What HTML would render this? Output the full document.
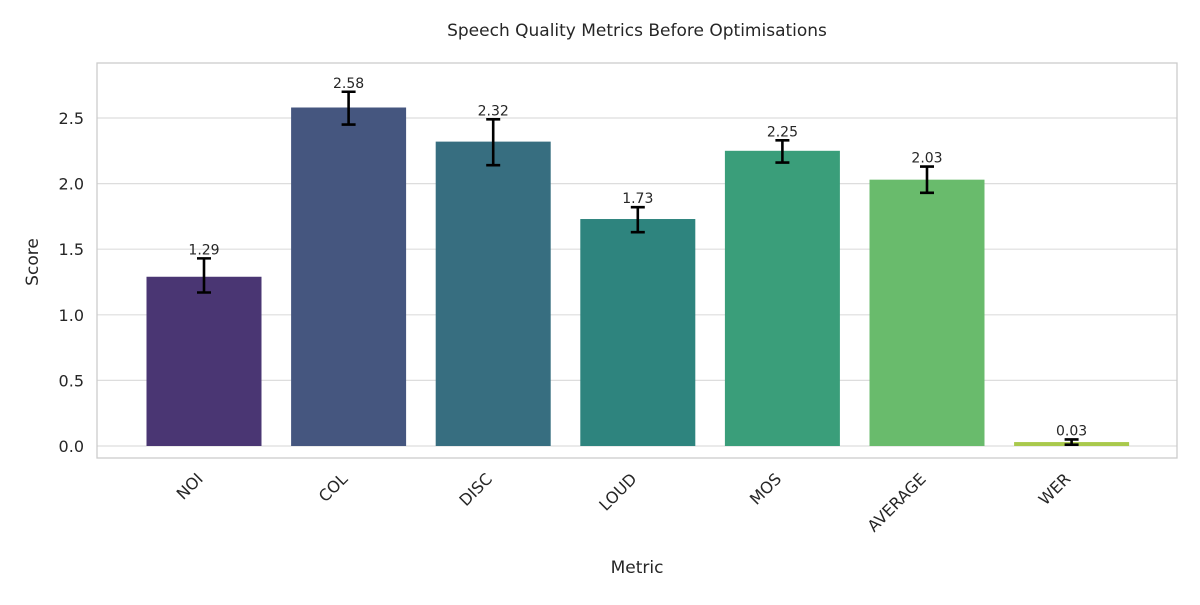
<!DOCTYPE html>
<html><head><meta charset="utf-8"><style>
body{margin:0;background:#fff;font-family:"Liberation Sans","DejaVu Sans",sans-serif;}
</style></head><body>
<svg id="chart" width="1200" height="600" xmlns="http://www.w3.org/2000/svg" font-family="'DejaVu Sans','Liberation Sans',sans-serif">
<rect width="1200" height="600" fill="#fff"/>
<text x="637" y="36" text-anchor="middle" font-size="17" fill="#262626">Speech Quality Metrics Before Optimisations</text>
<g id="grid"></g><g id="bars"></g><g id="err"></g><g id="labels"></g>
<rect x="97" y="63" width="1080" height="395" fill="none" stroke="#cccccc" stroke-width="1.3"/>
<text x="637" y="573" text-anchor="middle" font-size="17" fill="#262626">Metric</text>
<text transform="translate(38,262) rotate(-90)" text-anchor="middle" font-size="17" fill="#262626">Score</text>
</svg>
<script>
const categories=["NOI","COL","DISC","LOUD","MOS","AVERAGE","WER"];
const values=[1.29,2.58,2.32,1.73,2.25,2.03,0.03];
const errLow=[1.17,2.45,2.14,1.63,2.16,1.93,0.01];
const errHigh=[1.43,2.70,2.49,1.82,2.33,2.13,0.05];
const valueLabels=["1.29","2.58","2.32","1.73","2.25","2.03","0.03"];
const yTicks=[0,0.5,1.0,1.5,2.0,2.5];
const colors=["#4a3673","#45567f","#376e80","#2e847e","#3a9e7a","#69bb6c","#a9c94c"];
const NS="http://www.w3.org/2000/svg";
const y=v=>446-v*131.2;
const x=i=>204+144.6*i;
const bw=115;
function mk(tag,attrs,parent){const e=document.createElementNS(NS,tag);for(const k in attrs)e.setAttribute(k,attrs[k]);document.getElementById(parent).appendChild(e);return e;}
yTicks.forEach(t=>{
  const l=mk('line',{x1:97,x2:1177,y1:y(t),y2:y(t),stroke:'#dddddd','stroke-width':1.2},'grid');
  
  
  const tx=mk('text',{x:84,y:y(t)+6,'text-anchor':'end','font-size':16,fill:'#262626'},'grid');
  tx.textContent=t.toFixed(1);
  
  
});
categories.forEach((c,i)=>{
  const r=mk('rect',{x:x(i)-bw/2,y:y(values[i]),width:bw,height:y(0)-y(values[i]),fill:colors[i]},'bars');
  
  
  const g=mk('path',{d:`M${x(i)},${y(errLow[i])}V${y(errHigh[i])}M${x(i)-7},${y(errLow[i])}h14M${x(i)-7},${y(errHigh[i])}h14`,stroke:'#000','stroke-width':2.6,fill:'none'},'err');
  
  
  const v=mk('text',{x:x(i),y:y(errHigh[i])-4,'text-anchor':'middle','font-size':14,fill:'#262626'},'labels');
  v.textContent=valueLabels[i];
  
  
  const xl=mk('text',{transform:`translate(${x(i)-8},${472}) rotate(-45)`,'text-anchor':'end','font-size':16,fill:'#262626',dy:'0.7em'},'labels');
  xl.textContent=c;
  
  
});
</script>
</body></html>
